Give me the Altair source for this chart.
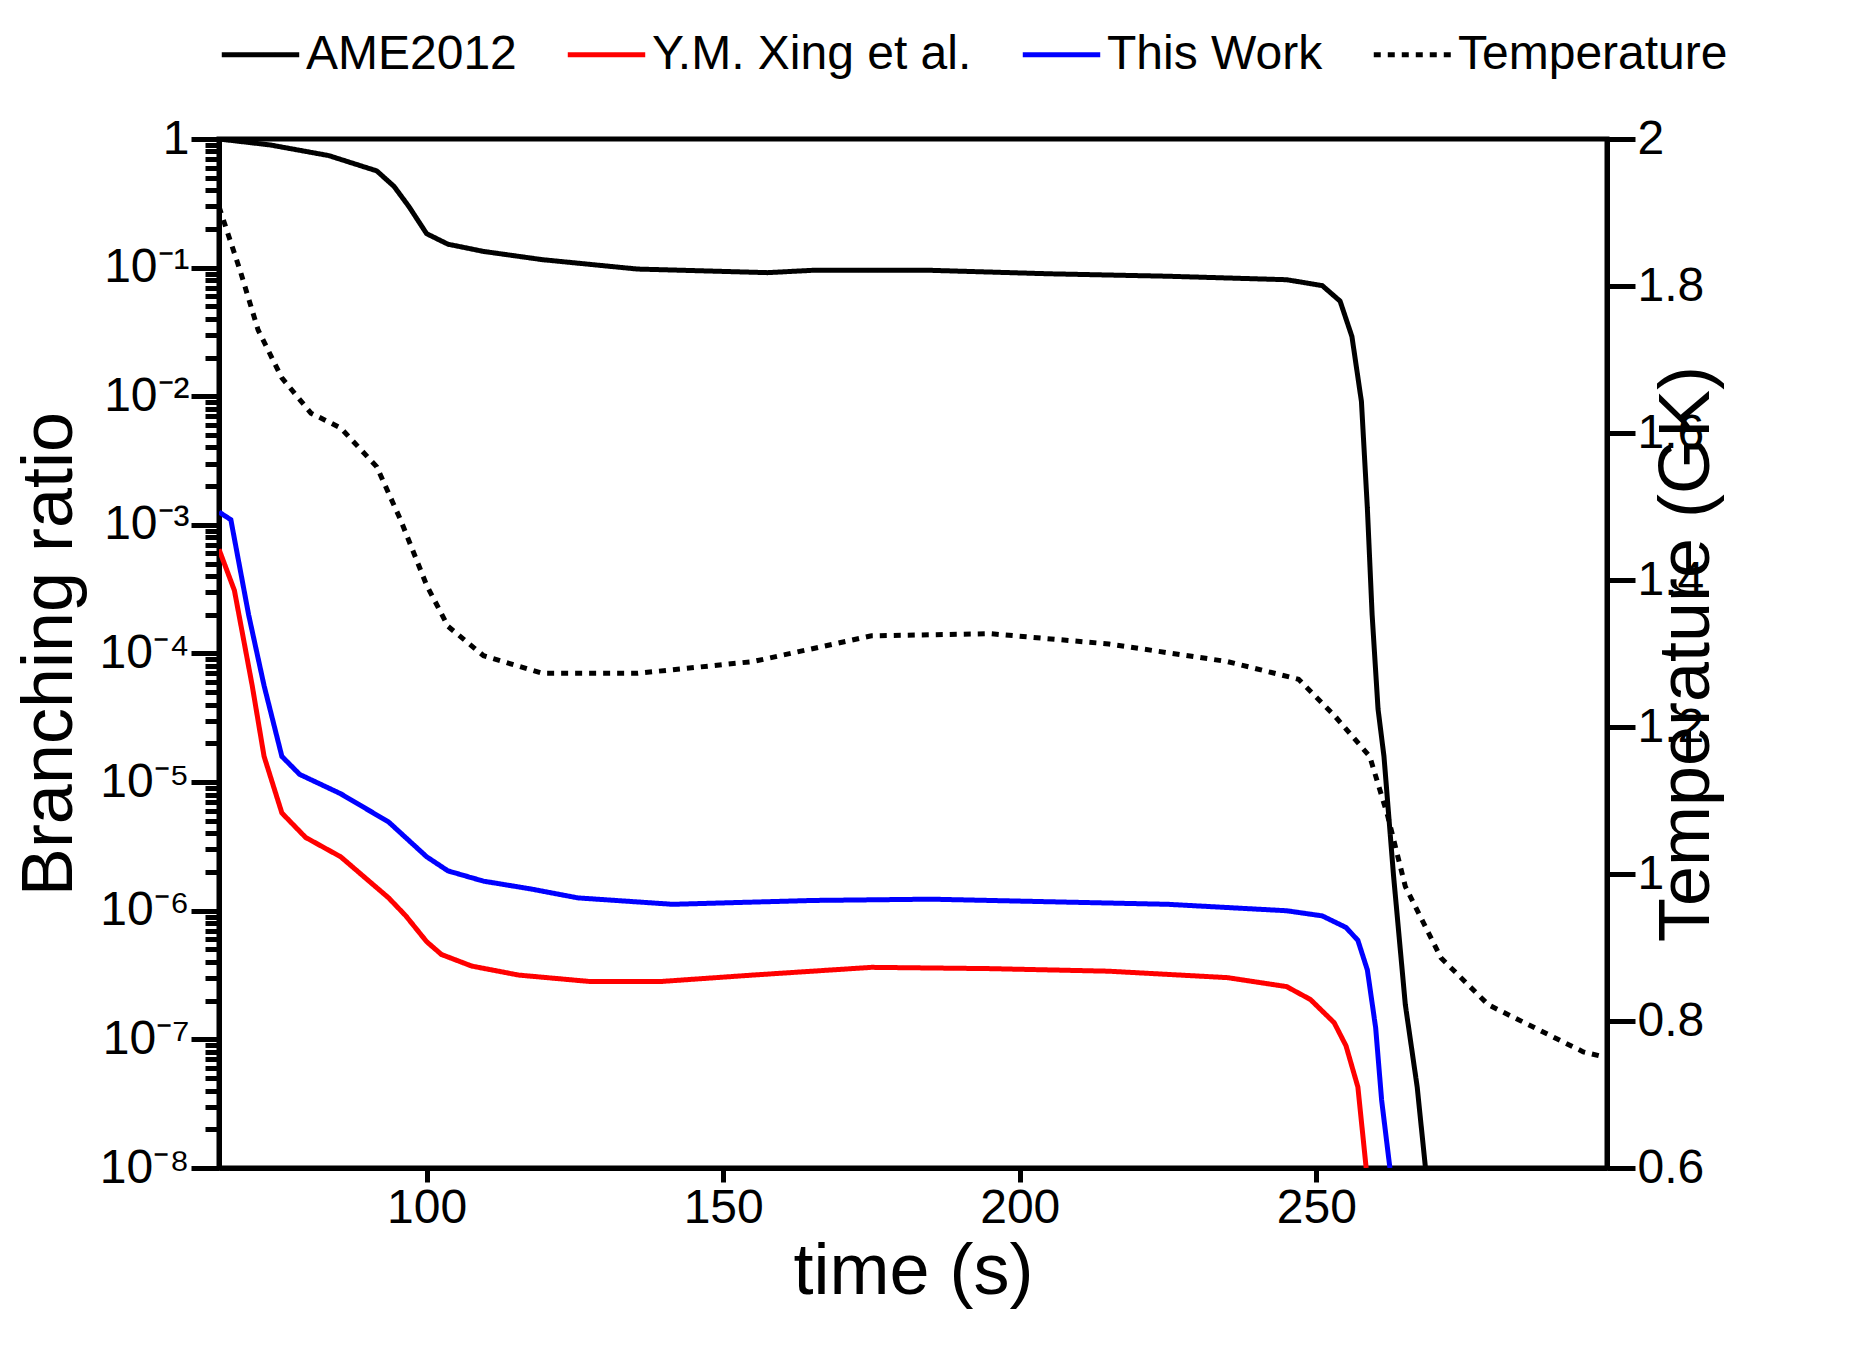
import altair as alt
import pandas as pd
import numpy as np

# values (branching ratio stored as log10)
ame_t = [65, 73.6, 83.5, 91.6, 94.5, 97, 100, 103.6, 109.6, 119.5, 135.5, 157.5, 165, 185, 205, 225, 245, 251,
         254, 256, 257.6, 258.6, 259.4, 260.4, 261.4, 263, 265, 267, 268.4]
ame_log = [0, -0.046, -0.129, -0.248, -0.368, -0.524, -0.736, -0.818, -0.874, -0.938, -1.011, -1.039, -1.021,
           -1.021, -1.048, -1.067, -1.094, -1.140, -1.260, -1.536, -2.041, -2.869, -3.697, -4.432, -4.8,
           -5.72, -6.73, -7.37, -8.0]

xing_t = [65, 67.6, 70.6, 72.6, 75.6, 79.6, 85.5, 93.6, 96.5, 100, 102.5, 107.6, 115.5, 127.5, 139.5, 155,
          175, 195, 215, 235, 245, 249, 253, 255, 257, 258.4]
xing_log = [-3.19, -3.51, -4.25, -4.8, -5.24, -5.43, -5.58, -5.90, -6.04, -6.24, -6.34, -6.43, -6.50, -6.55,
            -6.55, -6.50, -6.44, -6.45, -6.47, -6.52, -6.59, -6.69, -6.87, -7.05, -7.37, -8.0]

work_t = [65, 67, 70, 72.6, 75.6, 78.6, 85.5, 93.6, 100, 103.6, 109.6, 117.5, 125.5, 141.5, 165, 185, 205,
          225, 245, 251, 255, 257, 258.6, 260, 261, 262.4]
work_log = [-2.9, -2.96, -3.70, -4.25, -4.8, -4.94, -5.09, -5.31, -5.58, -5.69, -5.77, -5.83, -5.90, -5.95,
            -5.92, -5.91, -5.93, -5.95, -6.0, -6.04, -6.13, -6.23, -6.46, -6.91, -7.47, -8.0]

temp_t = [65, 68.6, 71.6, 75.6, 80.5, 85.5, 91.6, 95.6, 100, 103.6, 109.6, 119.5, 135.5, 155, 175, 195, 215,
          235, 247, 253, 259, 262, 265, 271, 279, 287, 295, 299]
temp_gk = [1.908, 1.82, 1.74, 1.675, 1.627, 1.607, 1.554, 1.482, 1.393, 1.337, 1.297, 1.273, 1.273, 1.289,
           1.324, 1.327, 1.313, 1.289, 1.265, 1.216, 1.16, 1.08, 0.983, 0.886, 0.822, 0.79, 0.758, 0.75]

series = ['AME2012', 'Y.M. Xing et al.', 'This Work', 'Temperature']
colors = ['black', '#ff0000', '#0000ff', 'black']
dashes = [[1, 0], [1, 0], [1, 0], [7, 7]]

rows = []
for name, t, lg in [(series[0], ame_t, ame_log), (series[1], xing_t, xing_log), (series[2], work_t, work_log)]:
    for i, (a, b) in enumerate(zip(t, lg)):
        rows.append({'time': a, 'ratio': 10 ** b, 'series': name, 'order': i})
br = pd.DataFrame(rows)
temp = pd.DataFrame({'time': temp_t, 'temp': temp_gk, 'series': series[3], 'order': range(len(temp_t))})

sup = {'1': '¹', '2': '²', '3': '³', '4': '⁴', '5': '⁵', '6': '⁶', '7': '⁷', '8': '⁸'}
label_expr = "datum.value >= 0.99 ? '1' : "
for e in range(1, 9):
    label_expr += f"abs(datum.value - 1e-{e}) < 1e-{e + 3} ? '10⁻{sup[str(e)]}' : "
label_expr += "''"
minor = [m * 10.0 ** (-e) for e in range(1, 9) for m in range(1, 10)] + [1.0]
decade_test = "abs(log(datum.value)/LN10 - round(log(datum.value)/LN10)) < 0.001"

font = 'Liberation Sans'
color = alt.Color('series:N', scale=alt.Scale(domain=series, range=colors),
                  legend=alt.Legend(title=None, orient='top', direction='horizontal', symbolType='stroke',
                                    symbolStrokeWidth=5, symbolSize=6000, labelFontSize=48, labelFont=font,
                                    labelLimit=0, columnPadding=40, offset=60, labelColor='black'))
dash = alt.StrokeDash('series:N', scale=alt.Scale(domain=series, range=dashes), legend=None)
xenc = alt.X('time:Q', scale=alt.Scale(domain=[65, 299], nice=False, zero=False),
             axis=alt.Axis(title='time (s)', values=[100, 150, 200, 250], grid=False, tickSize=14))

lines = alt.Chart(br).mark_line(strokeWidth=5, clip=True).encode(
    x=xenc,
    y=alt.Y('ratio:Q', scale=alt.Scale(type='log', domain=[1e-8, 1], nice=False),
            axis=alt.Axis(title='Branching ratio', values=minor, labelExpr=label_expr, grid=False,
                          tickSize={'condition': {'test': decade_test, 'value': 28}, 'value': 14},
                          titlePadding=12)),
    color=color, strokeDash=dash, order='order:Q')

tline = alt.Chart(temp).mark_line(strokeWidth=5, clip=True).encode(
    x=xenc,
    y=alt.Y('temp:Q', scale=alt.Scale(domain=[0.6, 2.0], nice=False, zero=False),
            axis=alt.Axis(title='Temperature (GK)', orient='right',
                          values=[0.6, 0.8, 1.0, 1.2, 1.4, 1.6, 1.8, 2.0], format='~g', grid=False,
                          tickSize=28, titlePadding=20, titleAngle=270)),
    color=color, strokeDash=dash, order='order:Q')

chart = alt.layer(lines, tline).resolve_scale(y='independent').properties(
    width=1388, height=1029
).configure_view(stroke='black', strokeWidth=5).configure_axis(
    labelFont=font, titleFont=font, labelFontSize=48, titleFontSize=72, titleFontWeight='normal',
    labelColor='black', titleColor='black', domainColor='black', tickColor='black',
    domainWidth=5, tickWidth=5
)

chart.save("out.html", embed_options={"renderer": "svg", "actions": False})
